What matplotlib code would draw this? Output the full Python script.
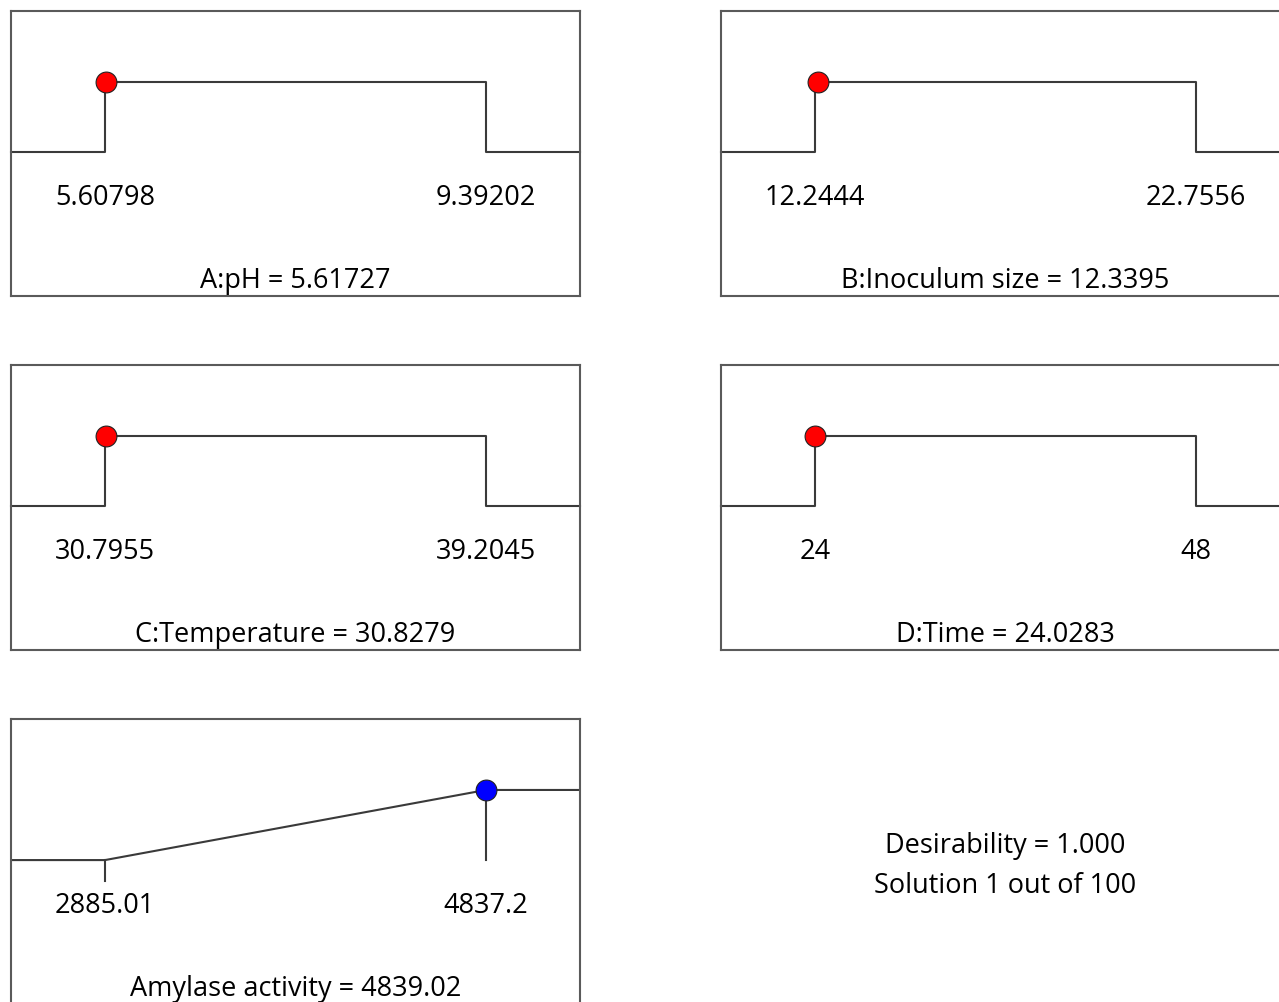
import matplotlib
matplotlib.use("Agg")
import matplotlib.pyplot as plt

plt.rcParams["font.family"] = ["Open Sans", "DejaVu Sans"]

# factor ramps (low limit, high limit, optimum setting)
factor_names = ["A:pH", "B:Inoculum size", "C:Temperature", "D:Time"]
factor_lows = [5.60798, 12.2444, 30.7955, 24]
factor_highs = [9.39202, 22.7556, 39.2045, 48]
factor_values = [5.61727, 12.3395, 30.8279, 24.0283]

# response ramp (maximize)
resp_name = "Amylase activity"
resp_low = 2885.01
resp_high = 4837.2
resp_value = 4839.02
desirability = 1.000
solution_no, n_solutions = 1, 100

W, H = 1279, 1002
LINE = "#3a3a3a"
BOX = "#5a5a5a"
FS = 19.5

fig = plt.figure(figsize=(W / 100, H / 100), dpi=100)


def make_ax(x0, y0, w=569, h=285):
    ax = fig.add_axes([x0 / W, 1 - (y0 + h) / H, w / W, h / H])
    ax.set_xticks([]); ax.set_yticks([])
    for s in ax.spines.values():
        s.set_color(BOX); s.set_linewidth(1.5)
    # d=0 at 49.5% from top, d=1 at 24.9% from top
    k = 0.246
    ax.set_ylim(-0.505 / k, 1 + 0.249 / k)
    return ax


def set_x(ax, lo, hi):
    m = (hi - lo) * 94 / 381
    ax.set_xlim(lo - m, hi + m)
    return lo - m, hi + m


def labels(ax, lo, hi, title):
    tr = ax.get_xaxis_transform()
    ax.text(lo, 0.345, f"{lo:g}", transform=tr, ha="center", va="center", fontsize=FS)
    ax.text(hi, 0.345, f"{hi:g}", transform=tr, ha="center", va="center", fontsize=FS)
    ax.text(0.5, 0.054, title, transform=ax.transAxes, ha="center", va="center", fontsize=FS)


positions = [(11, 11), (721, 11), (11, 365), (721, 365)]
for (x0, y0), name, lo, hi, val in zip(positions, factor_names, factor_lows, factor_highs, factor_values):
    ax = make_ax(x0, y0)
    xl, xr = set_x(ax, lo, hi)
    ax.plot([xl, lo, lo, hi, hi, xr], [0, 0, 1, 1, 0, 0], color=LINE, lw=1.5, clip_on=False)
    ax.plot([val], [1], "o", ms=15, mfc="#ff0000", mec="#222222", mew=0.8, zorder=5)
    labels(ax, lo, hi, f"{name} = {val:g}")

# response panel
ax = make_ax(11, 719)
xl, xr = set_x(ax, resp_low, resp_high)
ax.plot([xl, resp_low, resp_high, xr], [0, 0, 1, 1], color=LINE, lw=1.5)
ax.plot([resp_low, resp_low], [0, -0.3], color=LINE, lw=1.5)
ax.plot([resp_high, resp_high], [1, 0], color=LINE, lw=1.5)
ax.plot([resp_value], [min(desirability, 1)], "o", ms=15, mfc="#0000ff", mec="#222222", mew=0.8, zorder=5)
labels(ax, resp_low, resp_high, f"{resp_name} = {resp_value:g}")

fig.text(1005 / W, 1 - 866 / H,
         f"Desirability = {desirability:.3f}\nSolution {solution_no} out of {n_solutions}",
         ha="center", va="center", fontsize=FS, linespacing=1.6)

fig.savefig("out.png", dpi=100)
